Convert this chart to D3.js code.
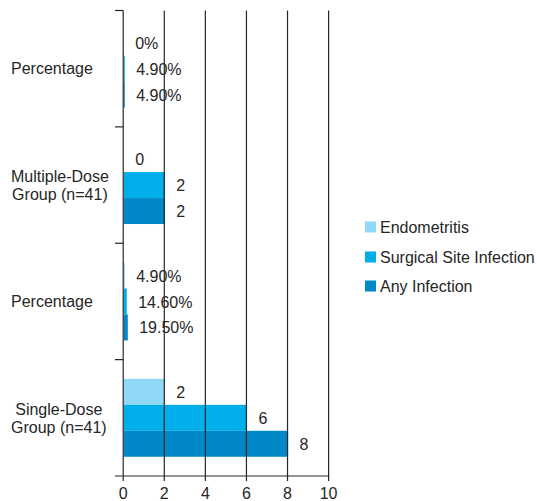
<!DOCTYPE html>
<html><head><meta charset="utf-8">
<script src="https://cdn.jsdelivr.net/npm/d3@7"></script>
<style>
body{margin:0;background:#fff;}
text{font-family:"Liberation Sans",Arial,sans-serif;fill:#262626;}
</style></head>
<body>
<svg id="c" width="537" height="501"></svg>
<script>
// Data (top to bottom)
const categories = [["Percentage"], ["Multiple-Dose", "Group (n=41)"], ["Percentage"], ["Single-Dose", "Group (n=41)"]];
const seriesNames = ["Endometritis", "Surgical Site Infection", "Any Infection"];
const endometritis = [0, 0, 0.049, 2];
const surgicalSite = [0.049, 2, 0.146, 6];
const anyInfection = [0.049, 2, 0.195, 8];
const endometritisLabels = ["0%", "0", "4.90%", "2"];
const surgicalSiteLabels = ["4.90%", "2", "14.60%", "6"];
const anyInfectionLabels = ["4.90%", "2", "19.50%", "8"];
const xTicks = [0, 2, 4, 6, 8, 10];
const colors = ["#8fd8f6", "#00aeea", "#0088c8"];

const seriesValues = [endometritis, surgicalSite, anyInfection];
const seriesLabels = [endometritisLabels, surgicalSiteLabels, anyInfectionLabels];

const svg = d3.select("#c");
const x = d3.scaleLinear().domain([0, 10]).range([123.2, 328.6]);
const y = d3.scaleBand().domain(d3.range(categories.length)).range([10.5, 476]).padding(0);
const y1 = d3.scaleBand().domain(d3.range(seriesNames.length)).range([0, y.bandwidth()]).paddingInner(0).paddingOuter(0.74);

// bars
const g = svg.append("g");
seriesValues.forEach((vals, s) => {
  g.selectAll(null).data(vals).enter().append("rect")
    .attr("x", x(0) + 0.6)
    .attr("y", (d, i) => y(i) + y1(s))
    .attr("width", d => x(d) - x(0))
    .attr("height", y1.bandwidth())
    .attr("fill", colors[s]);
  g.selectAll(null).data(vals).enter().append("text")
    .attr("x", d => x(d) + 12)
    .attr("y", (d, i) => y(i) + y1(s) + y1.bandwidth() / 2)
    .attr("dy", "0.38em")
    .attr("font-size", 16)
    .text((d, i) => seriesLabels[s][i]);
});

// gridlines (over bars)
svg.append("g").selectAll("line").data(xTicks).enter().append("line")
  .attr("x1", d => x(d)).attr("x2", d => x(d))
  .attr("y1", 10.5).attr("y2", 481)
  .attr("stroke", "#262626").attr("stroke-width", 1.2);

// bottom axis line
svg.append("line").attr("x1", 115).attr("x2", x(10) + 0.6).attr("y1", 476).attr("y2", 476)
  .attr("stroke", "#262626").attr("stroke-width", 1.2);
// bottom tick labels
svg.append("g").selectAll("text").data(xTicks).enter().append("text")
  .attr("x", d => x(d)).attr("y", 493).attr("dy", "0.36em")
  .attr("text-anchor", "middle").attr("font-size", 16).text(d => d);

// category boundary ticks
const bounds = d3.range(categories.length).map(i => y(i));
svg.append("g").selectAll("line").data(bounds).enter().append("line")
  .attr("x1", 115).attr("x2", x(0)).attr("y1", d => d).attr("y2", d => d)
  .attr("stroke", "#262626").attr("stroke-width", 1.2);

// category labels
categories.forEach((lines, i) => {
  const t = svg.append("text").attr("font-size", 16).attr("text-anchor", "middle");
  const cy = y(i) + y.bandwidth() / 2;
  const lh = 18;
  lines.forEach((ln, k) => {
    t.append("tspan").attr("x", 0).attr("y", cy + (k - (lines.length - 1) / 2) * lh).attr("dy", "0.36em").text(ln);
  });
  const bb = t.node().getBBox();
  t.attr("transform", `translate(${11 - bb.x},0)`);
});

// legend
const legY = [227, 257, 286];
const leg = svg.append("g");
seriesNames.forEach((n, s) => {
  leg.append("rect").attr("x", 365).attr("y", legY[s] - 5.5).attr("width", 11).attr("height", 11).attr("fill", colors[s]);
  leg.append("text").attr("x", 380).attr("y", legY[s]).attr("dy", "0.36em").attr("font-size", 16).text(n);
});
</script>
</body></html>
